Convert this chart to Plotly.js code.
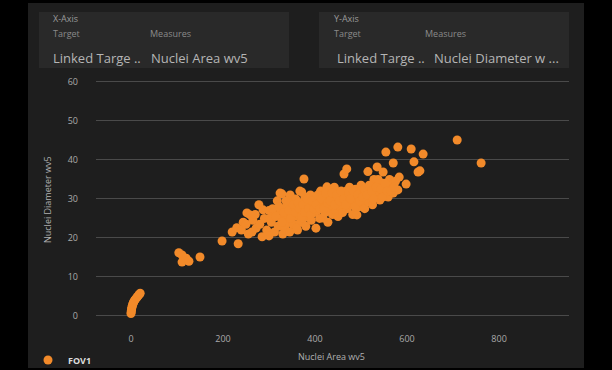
<!DOCTYPE html>
<html>
<head>
<meta charset="utf-8">
<script src="https://cdn.plot.ly/plotly-3.0.1.min.js"></script>
<style>html,body{margin:0;padding:0;background:#000;}#chart{width:612px;height:370px;}</style>
</head>
<body>
<div id="chart"></div>
<script>
// Series: FOV1 — Nuclei Area wv5 (x) vs Nuclei Diameter wv5 (y)
const seriesName = "FOV1";
const xLabel = "Nuclei Area wv5";
const yLabel = "Nuclei Diameter wv5";
const yTicks = [0, 10, 20, 30, 40, 50, 60];
const xTicks = [0, 200, 400, 600, 800];

const areaSmall = [0, 0.5, 1, 1.5, 2, 3, 4, 5, 6, 8, 10, 12, 14, 16, 18, 20];
const diamSmall = [0.6, 1.0, 1.4, 1.8, 2.2, 2.6, 3.0, 3.3, 3.6, 4.0, 4.3, 4.6, 4.9, 5.2, 5.5, 5.8];

const areaMid = [104, 111, 111, 120, 126, 150, 198, 233];
const diamMid = [16.2, 15.6, 13.8, 14.8, 14.0, 15.1, 19.2, 18.5];

const areaBand = [220, 230, 244, 252, 259, 263, 278, 285, 287, 240, 250, 255, 265, 270, 272, 280, 290, 295, 300, 305,
  310, 312, 318, 320, 325, 328, 330, 335, 338, 340, 342, 346, 348, 350, 352, 355, 358, 360, 362, 365,
  367, 368, 370, 372, 375, 376, 378, 380, 382, 385, 388, 390, 392, 395, 398, 400, 402, 405, 408, 410,
  412, 415, 417, 420, 422, 425, 426, 428, 430, 432, 435, 438, 440, 442, 445, 448, 450, 452, 455, 458,
  460, 463, 465, 468, 469, 470, 472, 475, 478, 480, 482, 485, 488, 490, 491, 495, 498, 500, 502, 504,
  508, 510, 512, 515, 517, 520, 522, 525, 528, 530, 532, 535, 538, 541, 545, 548, 550, 555, 559, 562,
  567, 570, 575, 580, 583, 598, 624, 628,
  302, 308, 315, 322, 328, 333, 337, 343, 347, 353, 357, 363, 366, 371, 374, 377, 383, 386, 391, 394,
  397, 403, 406, 411, 414, 419, 423, 427, 433, 437, 443, 447, 453, 457, 462, 467, 473, 477, 483, 487,
  493, 497, 503, 507, 513, 518, 523, 527, 533, 537, 543, 547, 552, 557, 565, 572,
  330, 345, 360, 300, 324, 371];
const diamBand = [21.5, 22.6, 24.0, 26.4, 25.9, 21.5, 28.5, 20.3, 27.2, 22.0, 23.5, 21.0, 24.5, 26.0, 22.5, 23.5, 25.0, 22.0, 27.0, 24.0,
  26.0, 21.5, 29.5, 23.0, 27.0, 31.3, 25.0, 22.5, 28.0, 26.0, 24.0, 31.0, 29.0, 27.0, 23.5, 25.5, 30.0, 28.0, 22.0, 26.0,
  32.0, 24.0, 29.0, 27.0, 25.0, 35.1, 30.5, 23.0, 27.5, 26.0, 29.0, 31.0, 24.5, 28.0, 26.5, 30.0, 22.5, 27.0, 29.5, 25.0,
  32.0, 28.0, 25.1, 30.5, 26.5, 29.0, 33.1, 24.0, 27.5, 31.0, 28.5, 26.0, 30.0, 33.0, 27.0, 29.5, 25.5, 31.5, 28.0, 30.0,
  26.5, 36.4, 29.0, 32.0, 37.7, 27.5, 30.5, 33.0, 28.5, 31.0, 26.0, 29.5, 32.5, 30.0, 25.9, 28.0, 31.5, 33.5, 29.0, 31.0,
  27.5, 32.0, 30.0, 37.0, 29.2, 33.0, 31.0, 28.5, 35.0, 34.6, 30.5, 38.2, 32.0, 29.7, 34.1, 36.9, 31.0, 33.0, 30.5, 35.0,
  33.6, 31.5, 34.5, 32.3, 35.6, 33.8, 36.9, 37.2,
  25.0, 27.5, 25.5, 28.0, 24.0, 26.5, 29.5, 27.0, 25.0, 28.5, 26.5, 29.0, 27.5, 25.5, 28.5, 26.5, 30.0, 27.5, 26.0, 29.5,
  27.5, 28.5, 31.0, 27.5, 30.0, 27.5, 31.5, 29.0, 29.5, 31.5, 28.5, 31.0, 29.5, 32.0, 30.0, 28.5, 31.5, 30.0, 32.0, 28.0,
  31.0, 29.5, 30.5, 32.5, 31.0, 33.5, 32.0, 30.0, 33.0, 35.0, 32.5, 30.5, 34.0, 32.0, 32.0, 33.0,
  21.0, 21.5, 22.5, 20.5, 31.5, 31.8];

const areaHigh = [554, 580, 609, 635, 570, 615, 709, 761];
const diamHigh = [42.0, 43.3, 42.8, 41.5, 39.2, 39.5, 45.1, 39.2];

const xs = areaSmall.concat(areaMid, areaBand, areaHigh);
const ys = diamSmall.concat(diamMid, diamBand, diamHigh);

// layout helpers: plot area = px 96..569 x 80..326
const L = 96, R = 569, T = 80, B = 326;
const W = R - L, H = B - T;
const px = v => (v - L) / W;
const py = v => (B - v) / H;

const textFont = "Open Sans, Noto Sans, sans-serif";
function ann(text, x, y, size, color, extra) {
  return Object.assign({text: text, xref: "paper", yref: "paper", x: px(x), y: py(y),
    xanchor: "left", yanchor: "middle", showarrow: false,
    font: {family: textFont, size: size, color: color}}, extra || {});
}

const annotations = [
  ann("X-Axis", 51, 19, 9, "#9a9a9a"),
  ann("Target", 51, 34, 9, "#8a8a8a"),
  ann("Measures", 148, 34, 9, "#8a8a8a"),
  ann("Linked Targe ..", 51, 58, 13, "#b5b5b5"),
  ann("Nuclei Area wv5", 149, 58, 13, "#b5b5b5"),
  ann("Y-Axis", 332, 19, 9, "#9a9a9a"),
  ann("Target", 332, 34, 9, "#8a8a8a"),
  ann("Measures", 423, 34, 9, "#8a8a8a"),
  ann("Linked Targe ..", 335, 58, 13, "#b5b5b5"),
  ann("Nuclei Diameter w ...", 432, 58, 13, "#b5b5b5"),
  ann(xLabel, 331, 356, 9, "#b0b0b0", {xanchor: "center"}),
  ann(yLabel, 47, 200, 9, "#b0b0b0", {xanchor: "center", textangle: -90})
];

const shapes = [
  {type: "rect", xref: "paper", yref: "paper", layer: "below",
   x0: px(28), x1: px(584), y0: py(368), y1: py(3), fillcolor: "#1e1e1e", line: {width: 0}},
  {type: "rect", xref: "paper", yref: "paper", layer: "below",
   x0: px(39), x1: px(289), y0: py(68), y1: py(12), fillcolor: "#292929", line: {width: 0}},
  {type: "rect", xref: "paper", yref: "paper", layer: "below",
   x0: px(319), x1: px(569), y0: py(68), y1: py(12), fillcolor: "#292929", line: {width: 0}}
];

const trace = {
  type: "scatter", mode: "markers", name: seriesName,
  x: xs, y: ys,
  marker: {color: "#f28a2a", size: 9, line: {width: 0}},
  showlegend: true
};

const layout = {
  width: 612, height: 370,
  margin: {l: L, r: 612 - R, t: T, b: 370 - B, pad: 0, autoexpand: false},
  paper_bgcolor: "#000000",
  plot_bgcolor: "#1e1e1e",
  font: {family: textFont, size: 9, color: "#aaaaaa"},
  xaxis: {range: [-76, 952], tickvals: xTicks, ticktext: xTicks.map(String), automargin: false,
    showgrid: false, zeroline: false, showline: false, ticks: "",
    tickfont: {size: 9, color: "#aaaaaa"}, ticklabelstandoff: 6},
  yaxis: {range: [-2.6, 60.5], tickvals: yTicks, ticktext: yTicks.map(String), automargin: false,
    showgrid: true, gridcolor: "#4a4a4a", gridwidth: 1, zeroline: false, showline: false, ticks: "",
    tickfont: {size: 9, color: "#aaaaaa"}, ticklabelstandoff: 17},
  showlegend: true,
  legend: {orientation: "h", x: px(28), y: py(360), xanchor: "left", yanchor: "middle",
    bgcolor: "rgba(0,0,0,0)", font: {size: 9, color: "#dddddd", weight: "bold"}},
  annotations: annotations,
  shapes: shapes
};

Plotly.newPlot("chart", [trace], layout, {displayModeBar: false, staticPlot: true});
</script>
</body>
</html>
